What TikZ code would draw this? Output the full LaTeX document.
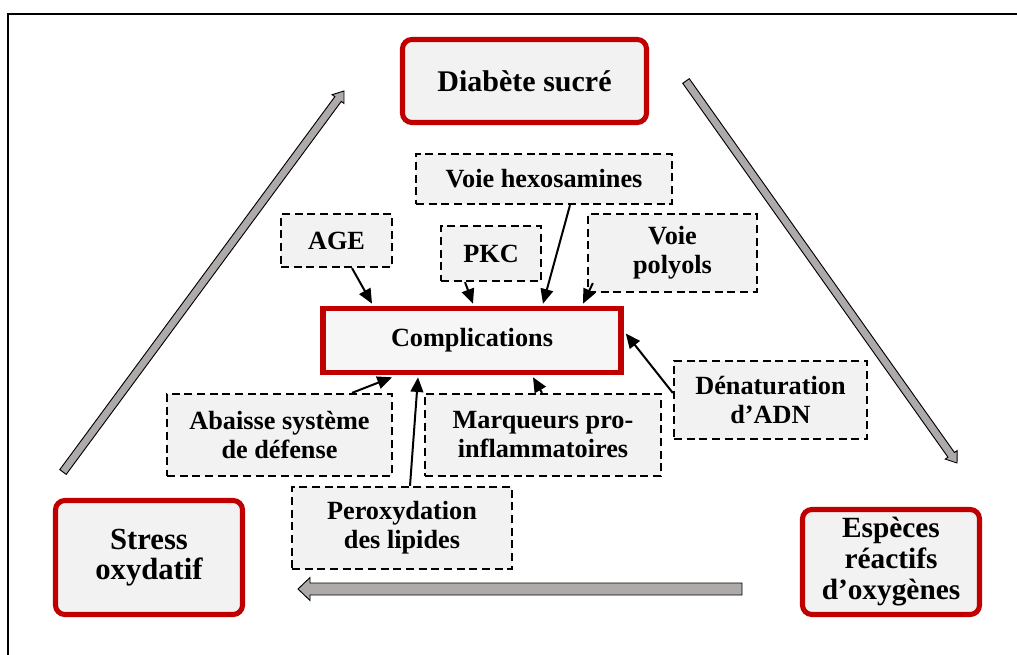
\documentclass[tikz,border=0pt]{standalone}
\usepackage{fontspec}
\setmainfont{Liberation Serif}
\usetikzlibrary{calc,arrows.meta}
\definecolor{boxfill}{HTML}{F2F2F2}
\definecolor{compfill}{HTML}{F6F6F6}
\definecolor{redline}{HTML}{C00000}
\definecolor{arrowgray}{RGB}{174,170,170}
\newcommand\blockarrow[5]{%
  \coordinate (ba-h) at ($(#2)!#5!(#1)$);
  \draw[blockar] ($(#1)!#3!90:(#2)$) -- ($(ba-h)!#3!90:(#2)$) -- ($(ba-h)!#4!90:(#2)$) -- (#2)
     -- ($(ba-h)!#4!-90:(#2)$) -- ($(ba-h)!#3!-90:(#2)$) -- ($(#1)!#3!-90:(#2)$) -- cycle;}
\begin{document}
\begin{tikzpicture}[x=0.75pt,y=-0.75pt,
  mainbox/.style={draw=redline, line width=3.8pt, fill=boxfill, rounded corners=7pt,
    align=center, inner sep=0pt, font=\fontsize{22.5}{23.5}\selectfont\bfseries},
  compbox/.style={draw=redline, line width=4.2pt, fill=compfill,
    align=center, inner sep=0pt, font=\fontsize{19.7}{21.75}\selectfont\bfseries},
  dashbox/.style={draw=black, line width=1.7pt, dash pattern=on 6pt off 3.5pt, fill=boxfill,
    align=center, inner sep=0pt, font=\fontsize{19.7}{21.75}\selectfont\bfseries},
  link/.style={line width=1.5pt, -{Triangle[length=11pt,width=9.5pt]}},
  blockar/.style={fill=arrowgray, draw=black, line width=0.7pt, line join=miter}]
\useasboundingbox (0,0) rectangle (1017,655);
\draw[line width=1.5pt] (8,655) -- (8,14) -- (1017,14);

% gray block arrows
\coordinate (la-s) at (63,472);
\coordinate (la-e) at (344,91);
\coordinate (ra-s) at (686,81);
\coordinate (ra-e) at (957,463);
\coordinate (ha-s) at (742,589);
\coordinate (ha-e) at (298,589);
\blockarrow{la-s}{la-e}{3pt}{5.5pt}{7.5pt}
\blockarrow{ra-s}{ra-e}{3pt}{5.5pt}{7.5pt}
\blockarrow{ha-s}{ha-e}{4.5pt}{8.6pt}{9pt}

% main boxes
\node[mainbox, minimum width=183pt, minimum height=62.25pt] (diab) at (524.5,81) {Diabète sucré};
\node[mainbox, minimum width=140.25pt, minimum height=85.5pt, font=\fontsize{23}{23}\selectfont\bfseries] (stress) at (149,557.5) {Stress\\oxydatif};
\node[mainbox, minimum width=132.75pt, minimum height=78.75pt, font=\fontsize{22}{23.25}\selectfont\bfseries] (esp) at (891,562) {Espèces\\réactifs\\d’oxygènes};

% complications
\node[compbox, minimum width=223.5pt, minimum height=48pt] (comp) at (472,340.5) {Complications};

% dashed boxes
\node[dashbox, minimum width=192pt, minimum height=37.5pt] (hex) at (544,179) {Voie hexosamines};
\node[dashbox, minimum width=83.25pt, minimum height=39.75pt] (age) at (336.5,240.5) {AGE};
\node[dashbox, minimum width=75pt, minimum height=41.25pt] (pkc) at (491,253.5) {PKC};
\node[dashbox, minimum width=126.75pt, minimum height=58.5pt] (pol) at (672.5,253) {Voie\\polyols};
\node[dashbox, minimum width=168.75pt, minimum height=61.5pt] (aba) at (279.5,435) {Abaisse système\\de défense};
\node[dashbox, minimum width=177pt, minimum height=61.5pt] (mar) at (543,435) {Marqueurs pro-\\inflammatoires};
\node[dashbox, minimum width=144.75pt, minimum height=58.5pt] (den) at (770.5,400) {Dénaturation\\d’ADN};
\node[dashbox, minimum width=165pt, minimum height=61.5pt] (per) at (402,528) {Peroxydation\\des lipides};

% black arrows
\draw[link] ($(age.south)+(15.5,0)$) -- ($(comp.north)+(-100,-2)$);
\draw[link] ($(pkc.south)+(-26,0)$) -- ($(comp.north)+(1,-2)$);
\draw[link] ($(hex.south)+(26,0)$) -- ($(comp.north)+(71,-2)$);
\draw[link] ($(pol.south west)+(6,-10)$) -- ($(comp.north)+(111,-2)$);
\draw[link] ($(den.west)+(0,-7)$) -- ($(comp.east)+(2,-7)$);
\draw[link] ($(mar.north)+(-1,0)$) -- ($(comp.south)+(61,2)$);
\draw[link] ($(aba.north)+(72.5,0)$) -- ($(comp.south)+(-80,2)$);
\draw[link] ($(per.north)+(8,0)$) -- ($(comp.south)+(-54,2)$);
\end{tikzpicture}
\end{document}
